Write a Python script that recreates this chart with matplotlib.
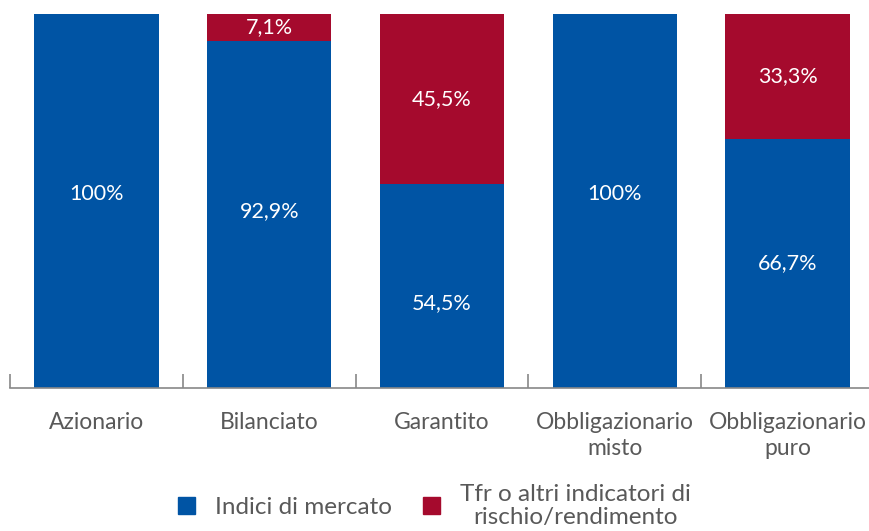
import matplotlib.pyplot as plt
from matplotlib.patches import Patch

categories = ["Azionario", "Bilanciato", "Garantito", "Obbligazionario\nmisto", "Obbligazionario\npuro"]
indici = [100, 92.9, 54.5, 100, 66.7]
tfr = [0, 7.1, 45.5, 0, 33.3]
label_indici = ["100%", "92,9%", "54,5%", "100%", "66,7%"]
label_tfr = ["", "7,1%", "45,5%", "", "33,3%"]

blue = "#0054A4"
red = "#A50A2D"
grey = "#595959"

# small nudges of the labels as in the original (data units)
nudge = [1.8, 0.8, -4.5, 1.8, 0]

plt.rcParams['font.family'] = ['Lato', 'DejaVu Sans']

fig = plt.figure(figsize=(8.69, 5.31), dpi=100)
W, H = 869, 531
ax = fig.add_axes([10 / W, (H - 388) / H, 864 / W, 374 / H])

x = range(len(categories))
ax.bar(x, indici, width=0.72, color=blue)
ax.bar(x, tfr, width=0.72, bottom=indici, color=red)

for i in x:
    ax.text(i, indici[i] / 2 + nudge[i], label_indici[i], ha="center", va="center",
            color="white", fontsize=15.5)
    if tfr[i] > 0:
        ax.text(i, indici[i] + tfr[i] / 2, label_tfr[i], ha="center", va="center",
                color="white", fontsize=15.5)

ax.set_xlim(-0.5, 4.5)
ax.set_ylim(0, 100)
for s in ["top", "right", "left"]:
    ax.spines[s].set_visible(False)
ax.spines["bottom"].set_color("#888888")
ax.spines["bottom"].set_linewidth(1.2)
ax.set_yticks([])
ax.set_xticks([i - 0.5 for i in range(6)])
ax.set_xticklabels([])
ax.tick_params(axis="x", direction="in", length=10, color="#888888", width=1.2)
for i, c in enumerate(categories):
    ax.text(i, -6.5, c, ha="center", va="top", color=grey, fontsize=16.5, linespacing=1.3)

handles = [Patch(color=blue, label="Indici di mercato"),
           Patch(color=red, label="Tfr o altri indicatori di\nrischio/rendimento")]
leg = fig.legend(handles=handles, loc="lower center", bbox_to_anchor=(0.5, -0.035), ncol=2,
                 frameon=False, fontsize=17.5, labelcolor=grey, handlelength=0.7, handleheight=0.7,
                 columnspacing=1.3, handletextpad=0.8, labelspacing=0)
for t in leg.get_texts():
    t.set_multialignment("center")
    t.set_linespacing(1.1)

fig.savefig("out.png", dpi=100)
